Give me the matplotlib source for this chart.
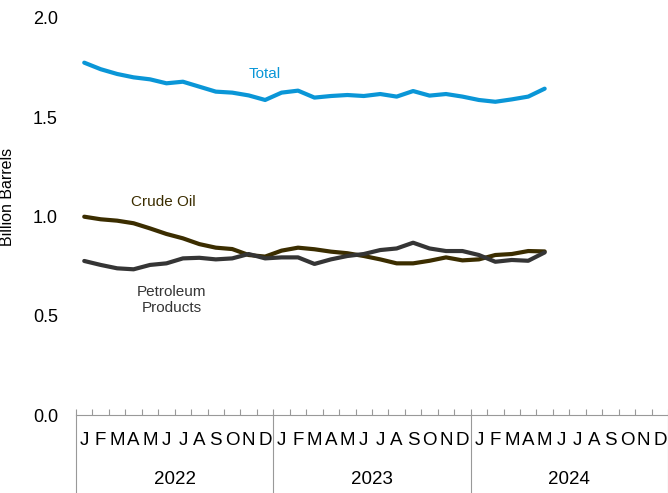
import numpy as np
from matplotlib import pyplot as plt
from matplotlib import transforms

plt.rcParams["font.family"] = ["Liberation Sans", "DejaVu Sans"]

years = ["2022", "2023", "2024"]
month_letters = ["J", "F", "M", "A", "M", "J", "J", "A", "S", "O", "N", "D"]

# monthly values, Jan 2022 - May 2024 (billion barrels)
total = [1.775, 1.742, 1.718, 1.701, 1.691, 1.671, 1.679, 1.654, 1.629, 1.624, 1.610, 1.587,
         1.624, 1.634, 1.599, 1.607, 1.612, 1.607, 1.617, 1.604, 1.632, 1.609, 1.617, 1.604,
         1.587, 1.578, 1.590, 1.604, 1.644]
crude_oil = [0.999, 0.986, 0.979, 0.966, 0.940, 0.912, 0.890, 0.861, 0.843, 0.836, 0.806, 0.798,
             0.828, 0.843, 0.835, 0.823, 0.815, 0.801, 0.784, 0.764, 0.764, 0.777, 0.794, 0.779,
             0.784, 0.806, 0.811, 0.826, 0.824]
petroleum_products = [0.776, 0.756, 0.739, 0.734, 0.756, 0.764, 0.789, 0.792, 0.784, 0.789, 0.811, 0.789,
                      0.794, 0.794, 0.761, 0.784, 0.801, 0.811, 0.831, 0.839, 0.868, 0.839, 0.826, 0.826,
                      0.806, 0.772, 0.781, 0.777, 0.819]

blue = "#0a96d7"
brown = "#3b2d00"
gray = "#353535"

fig = plt.figure(figsize=(6.68, 4.93), dpi=100)
fig.patch.set_facecolor("white")
ax = fig.add_axes([0.1138, 0.1582, 0.8862, 0.8053])

n_months = len(years) * 12
x = np.arange(len(total)) + 0.5
ax.plot(x, crude_oil, color=brown, linewidth=3, solid_capstyle="round")
ax.plot(x, petroleum_products, color=gray, linewidth=3, solid_capstyle="round")
ax.plot(x, total, color=blue, linewidth=3, solid_capstyle="round")

ax.text(11.5, 1.718, "Total", color=blue, fontsize=11, ha="center", va="center")
ax.text(5.33, 1.075, "Crude Oil", color=brown, fontsize=11, ha="center", va="center")
ax.text(5.82, 0.58, "Petroleum\nProducts", color=gray, fontsize=11, ha="center", va="center",
        linespacing=1.2)

ax.set_xlim(0, n_months)
ax.set_ylim(0, 2.0)
ax.set_yticks([0.0, 0.5, 1.0, 1.5, 2.0])
ax.set_yticklabels(["0.0", "0.5", "1.0", "1.5", "2.0"])
ax.tick_params(axis="y", length=0, labelsize=13, pad=13)
ax.set_ylabel("Billion Barrels", fontsize=11.5)
ax.yaxis.set_label_coords(-0.103, 0.55)

for side in ["left", "right", "top"]:
    ax.spines[side].set_visible(False)
ax.spines["bottom"].set_color("#999999")
ax.set_xticks(np.arange(n_months + 1))
ax.set_xticklabels([])
ax.tick_params(axis="x", direction="in", length=4, color="#999999", width=0.8)

trans = transforms.blended_transform_factory(ax.transData, ax.transAxes)
for i in range(len(years) + 1):
    ax.plot([i * 12, i * 12], [0, -0.1582 / 0.8053], transform=trans, color="#999999",
            linewidth=0.8, clip_on=False)
for i, year in enumerate(years):
    for m, letter in enumerate(month_letters):
        ax.text(i * 12 + m + 0.5, -0.064, letter, transform=trans, ha="center", va="center",
                fontsize=13.5)
    ax.text(i * 12 + 6, -0.163, year, transform=trans, ha="center", va="center",
            fontsize=13.5)

plt.savefig("out.png", dpi=100)
plt.close(fig)
